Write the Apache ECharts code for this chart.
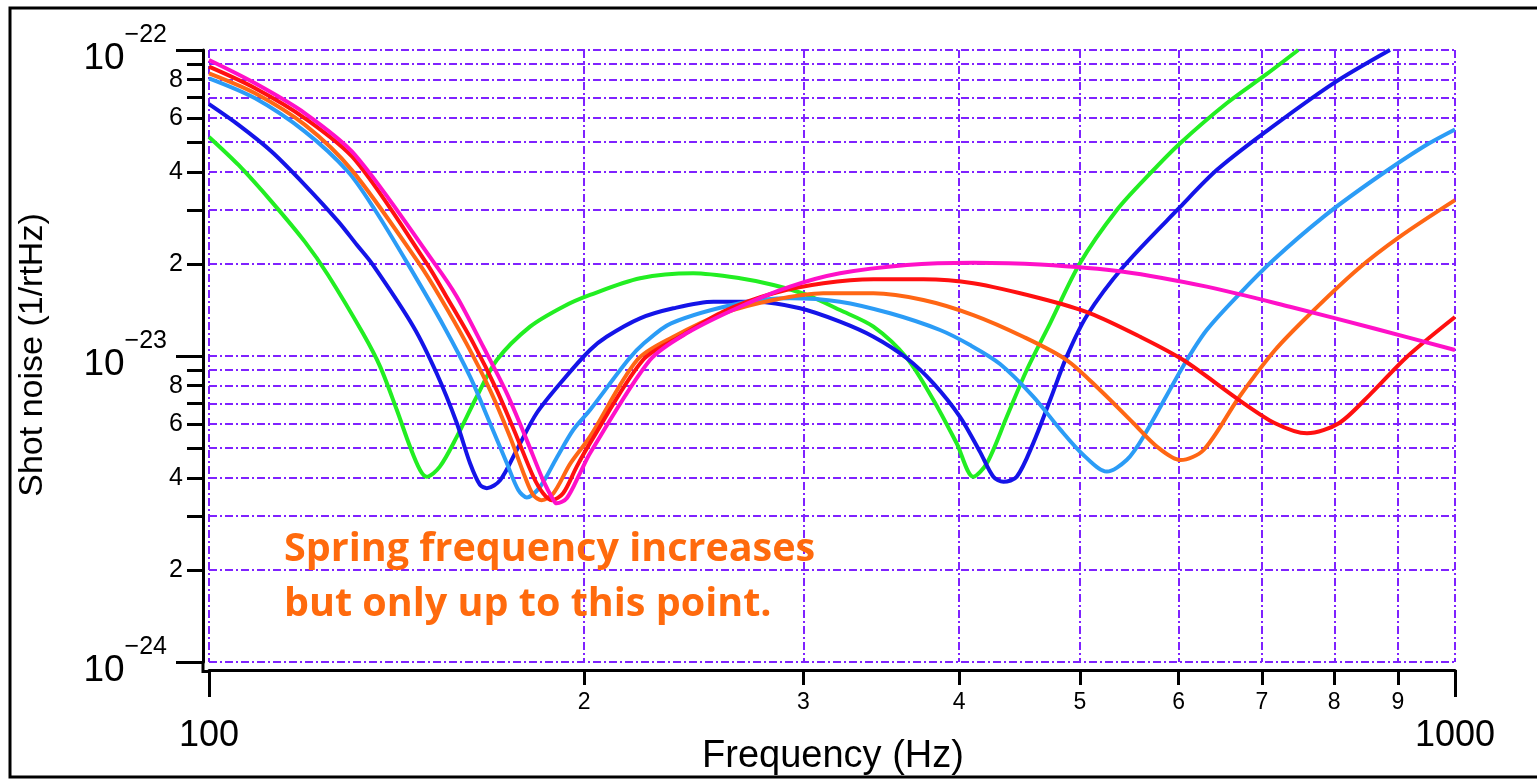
<!DOCTYPE html>
<html>
<head>
<meta charset="utf-8">
<script src="https://cdn.jsdelivr.net/npm/echarts@6/dist/echarts.min.js"></script>
<style>html,body{margin:0;padding:0;background:#fff}#c{width:1537px;height:779px}</style>
</head>
<body>
<div id="c"></div>
<script>
// ---- tick values / labels ----
const xMinorTicks = [200, 300, 400, 500, 600, 700, 800, 900];
const xMajorTicks = [100, 1000];
const yMinorTicks = [2e-24, 3e-24, 4e-24, 5e-24, 6e-24, 7e-24, 8e-24, 9e-24,
                     2e-23, 3e-23, 4e-23, 5e-23, 6e-23, 7e-23, 8e-23, 9e-23];
const yMinorLabeled = [2e-24, 4e-24, 6e-24, 8e-24, 2e-23, 4e-23, 6e-23, 8e-23];
const yMajorTicks = [1e-24, 1e-23, 1e-22];

// ---- series data: [frequency (Hz), shot noise (1/rtHz)] ----
const green = [[100,5.2e-23],[105.6,4.21e-23],[112.3,3.19e-23],[119.4,2.36e-23],[124.6,1.84e-23],[132.9,1.186e-23],[137.2,9.23e-24],[141.5,6.66e-24],[145.0,5.05e-24],[147.7,4.24e-24],[149.5,4.03e-24],[153.2,4.35e-24],[158.1,5.45e-24],[164.0,7.36e-24],[170.2,9.70e-24],[181.0,1.247e-23],[192.4,1.449e-23],[202.2,1.583e-23],[221.8,1.795e-23],[244.7,1.863e-23],[266.8,1.795e-23],[283.8,1.706e-23],[301.8,1.583e-23],[320.9,1.413e-23],[341.4,1.247e-23],[363.1,9.85e-24],[381.4,7.18e-24],[398.1,5.19e-24],[410.6,4.03e-24],[421.0,4.46e-24],[436.8,6.33e-24],[453.2,9.00e-24],[473.2,1.279e-23],[500,2.009e-23],[535.3,3.0e-23],[569.3,3.95e-23],[601.8,4.96e-23],[655.8,6.70e-23],[706.3,8.35e-23],[748.5,1.0e-22]];
const blue = [[100,6.65e-23],[105.6,5.69e-23],[112.3,4.65e-23],[119.4,3.62e-23],[127.0,2.75e-23],[131.4,2.31e-23],[135.2,2.0e-23],[145.9,1.247e-23],[152.3,8.78e-24],[158.1,6.03e-24],[162.0,4.46e-24],[165.0,3.79e-24],[167.1,3.70e-24],[171.3,3.93e-24],[176.6,4.93e-24],[183.2,6.50e-24],[192.4,8.35e-24],[202.2,1.046e-23],[208.5,1.156e-23],[221.8,1.328e-23],[235.9,1.432e-23],[254.0,1.505e-23],[275.2,1.505e-23],[298.1,1.432e-23],[320.9,1.295e-23],[341.4,1.156e-23],[363.1,9.83e-24],[381.4,8.14e-24],[400.6,6.33e-24],[415.7,4.86e-24],[426.1,4.03e-24],[434.1,3.88e-24],[444.9,4.03e-24],[458.7,5.19e-24],[473.2,7.18e-24],[487.9,9.95e-24],[506.3,1.351e-23],[541.8,1.957e-23],[601.8,3.07e-23],[643.8,4.05e-23],[701.9,5.34e-23],[798.7,7.78e-23],[886.7,1.0e-22]];
const lightBlue = [[100,8.08e-23],[108.9,6.95e-23],[119.4,5.41e-23],[129.3,4.0e-23],[135.9,3.0e-23],[144.4,2.0e-23],[154.4,1.247e-23],[162.0,8.56e-24],[168.1,6.03e-24],[173.4,4.46e-24],[177.1,3.65e-24],[179.9,3.45e-24],[184.4,3.74e-24],[190.1,4.64e-24],[196.0,5.73e-24],[202.2,6.66e-24],[216.9,9.70e-24],[223.4,1.10e-23],[234.9,1.279e-23],[266.8,1.487e-23],[292.6,1.544e-23],[320.9,1.505e-23],[352.1,1.379e-23],[386.1,1.216e-23],[408.1,1.086e-23],[431.4,9.42e-24],[458.7,7.37e-24],[481.9,5.77e-24],[503.2,4.75e-24],[525.4,4.19e-24],[545.1,4.57e-24],[562.3,5.45e-24],[605.3,9.28e-24],[632.0,1.216e-23],[672.2,1.603e-23],[714.9,2.06e-23],[784.2,2.85e-23],[860.0,3.76e-23],[943.2,4.83e-23],[1000,5.5e-23]];
const orange = [[100,8.39e-23],[108.9,7.22e-23],[119.4,5.69e-23],[130.2,4.05e-23],[147.5,2.0e-23],[153.2,1.562e-23],[160.9,1.10e-23],[168.1,7.74e-24],[174.4,5.45e-24],[179.3,4.03e-24],[182.1,3.51e-24],[184.9,3.38e-24],[189.0,3.56e-24],[194.9,4.44e-24],[202.2,5.45e-24],[220.6,9.70e-24],[235.9,1.156e-23],[258.7,1.379e-23],[283.8,1.524e-23],[311.2,1.603e-23],[341.4,1.603e-23],[374.4,1.524e-23],[410.6,1.361e-23],[450.3,1.156e-23],[487.9,9.70e-24],[518.9,7.74e-24],[552.0,6.03e-24],[576.7,5.05e-24],[602.2,4.57e-24],[628.4,4.93e-24],[671.4,7.36e-24],[717.1,1.046e-23],[765.9,1.379e-23],[834.1,1.910e-23],[903.2,2.454e-23],[1000,3.23e-23]];
const red = [[100,8.82e-23],[108.9,7.50e-23],[119.4,5.98e-23],[131.0,4.37e-23],[149.6,2.0e-23],[155.1,1.562e-23],[163.0,1.10e-23],[170.2,7.74e-24],[176.6,5.45e-24],[182.1,4.03e-24],[185.4,3.56e-24],[188.4,3.38e-24],[192.4,3.56e-24],[197.3,4.35e-24],[202.2,5.19e-24],[223.0,9.70e-24],[238.8,1.156e-23],[258.7,1.396e-23],[283.8,1.603e-23],[311.2,1.728e-23],[341.4,1.781e-23],[374.4,1.781e-23],[410.6,1.728e-23],[464.5,1.544e-23],[509.5,1.379e-23],[558.9,1.156e-23],[605.3,9.70e-24],[671.0,7.18e-24],[717.1,6.03e-24],[760.7,5.59e-24],[806.9,6.03e-24],[856.4,7.55e-24],[915.2,9.95e-24],[1000,1.341e-23]];
const magenta = [[100,9.27e-23],[108.9,7.78e-23],[119.4,6.21e-23],[131.0,4.54e-23],[151.8,2.0e-23],[158.1,1.562e-23],[166.0,1.072e-23],[173.4,7.55e-24],[179.9,5.31e-24],[185.4,3.93e-24],[189.0,3.38e-24],[190.1,3.30e-24],[193.7,3.43e-24],[198.5,4.14e-24],[202.2,4.81e-24],[225.9,9.70e-24],[241.7,1.186e-23],[266.8,1.449e-23],[292.6,1.685e-23],[320.9,1.863e-23],[363.1,1.984e-23],[410.6,2.018e-23],[464.5,1.991e-23],[541.8,1.886e-23],[632.0,1.685e-23],[737.1,1.449e-23],[860.0,1.232e-23],[1000,1.046e-23]];

const seriesList = [
  {name: 'g', data: green, color: '#22ee22'},
  {name: 'b', data: blue, color: '#1414e8'},
  {name: 'lb', data: lightBlue, color: '#2b9cf6'},
  {name: 'o', data: orange, color: '#ff6614'},
  {name: 'r', data: red, color: '#ff1010'},
  {name: 'm', data: magenta, color: '#ff10c8'}
];

// display unit of the y axis (values are plotted in multiples of 1e-23)
const yUnit = 1e-23;
const toUnit = v => +(v / yUnit).toPrecision(8);
const fromUnit = v => v * yUnit;

const gridColor = '#7f22ff';
const dashType = [8, 3, 2, 3];
const font = "'Liberation Sans', Arial, sans-serif";
const splitStyle = {show: true, lineStyle: {color: gridColor, width: 2, type: dashType}};

const chart = echarts.init(document.getElementById('c'), null, {renderer: 'canvas'});

const option = {
  animation: false,
  backgroundColor: '#fff',
  grid: {left: 209, right: 82, top: 50, bottom: 117, containLabel: false},
  xAxis: [
    {
      type: 'log', logBase: 10, min: 100, max: 1000, position: 'bottom', offset: 8,
      axisLine: {show: true, onZero: false, lineStyle: {color: '#000', width: 3}},
      axisTick: {show: true, customValues: xMinorTicks, length: 15, lineStyle: {color: '#000', width: 3}},
      axisLabel: {show: true, customValues: xMinorTicks, margin: 21, fontSize: 23, fontFamily: font, color: '#000',
        formatter: v => String(Math.round(v / 100))},
      splitLine: splitStyle
    },
    {
      type: 'log', logBase: 10, min: 100, max: 1000, position: 'bottom', offset: 8,
      axisLine: {show: false},
      axisTick: {show: true, customValues: xMajorTicks, length: 27, lineStyle: {color: '#000', width: 3}},
      axisLabel: {show: true, customValues: xMajorTicks, margin: 48, fontSize: 36, fontFamily: font, color: '#000',
        formatter: v => String(Math.round(v))},
      splitLine: splitStyle
    }
  ],
  yAxis: [
    {
      type: 'log', logBase: 10, min: toUnit(1e-24), max: toUnit(1e-22), position: 'left', offset: 6,
      axisLine: {show: true, onZero: false, lineStyle: {color: '#000', width: 3}},
      axisTick: {show: true, customValues: yMinorTicks.map(toUnit), length: 16, lineStyle: {color: '#000', width: 3}},
      axisLabel: {show: true, customValues: yMinorLabeled.map(toUnit), margin: 20, fontSize: 25, fontFamily: font, color: '#000',
        formatter: v => { const r = fromUnit(v); return String(Math.round(r / Math.pow(10, Math.floor(Math.log10(r) + 1e-9)))); }},
      splitLine: splitStyle
    },
    {
      type: 'log', logBase: 10, min: toUnit(1e-24), max: toUnit(1e-22), position: 'left', offset: 6,
      axisLine: {show: false},
      axisTick: {show: true, customValues: yMajorTicks.map(toUnit), length: 27, lineStyle: {color: '#000', width: 3}},
      axisLabel: {show: true, customValues: yMajorTicks.map(toUnit), margin: 36, color: '#000',
        formatter: v => '{a|10}{b|\u2212' + Math.abs(Math.round(Math.log10(fromUnit(v)))) + '}',
        rich: {
          a: {fontSize: 37, fontFamily: font, color: '#000', padding: [17, 0, 0, 0], verticalAlign: 'bottom'},
          b: {fontSize: 25, fontFamily: font, color: '#000', verticalAlign: 'top'}
        }},
      splitLine: splitStyle
    }
  ],
  series: seriesList.map(s => ({
    name: s.name, type: 'line', xAxisIndex: 0, yAxisIndex: 0,
    data: s.data.map(p => [p[0], toUnit(p[1])]),
    showSymbol: false, symbol: 'none', smooth: 0.3, clip: true,
    lineStyle: {color: s.color, width: 4}, itemStyle: {color: s.color}, z: 5
  })),
  graphic: [
    {type: 'rect', shape: {x: 10, y: 8, width: 1600, height: 769}, style: {fill: 'none', stroke: '#000', lineWidth: 3}, silent: true},
    {type: 'polyline', shape: {points: [[203, 662], [203, 671.5], [209, 671.5]]}, style: {fill: 'none', stroke: '#000', lineWidth: 3}, silent: true},
    {type: 'text', x: 33, y: 355, rotation: Math.PI / 2,
      style: {text: 'Shot noise (1/rtHz)', fontSize: 34, fontFamily: font, fill: '#000', align: 'center', verticalAlign: 'middle', textAlign: 'center', textVerticalAlign: 'middle'}},
    {type: 'text', x: 833, y: 757,
      style: {text: 'Frequency (Hz)', fontSize: 38, fontFamily: font, fill: '#000', align: 'center', verticalAlign: 'middle', textAlign: 'center', textVerticalAlign: 'middle'}},
    {type: 'text', x: 284, y: 522, z: 20,
      style: {text: 'Spring frequency increases\nbut only up to this point.', fontSize: 39.5, fontWeight: 'bold', fontFamily: "'Open Sans', sans-serif",
        lineHeight: 55, fill: '#ff6a0d', align: 'left', verticalAlign: 'top', textAlign: 'left', textVerticalAlign: 'top'}}
  ]
};
chart.setOption(option);
</script>
</body>
</html>
